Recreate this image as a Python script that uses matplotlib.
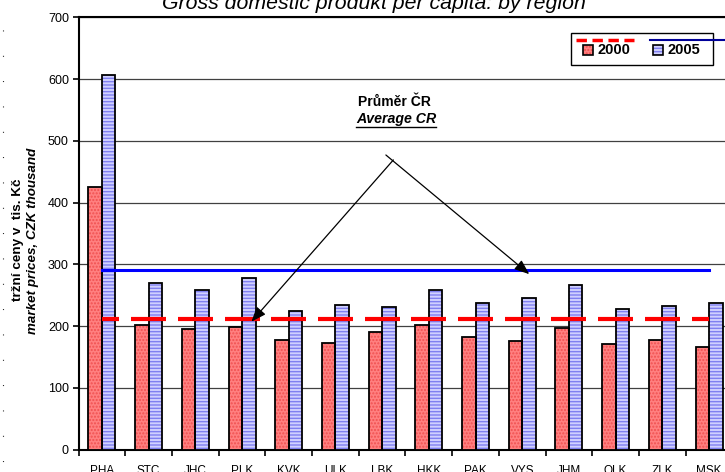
import matplotlib
matplotlib.use("Agg")
import matplotlib.pyplot as plt
from matplotlib.lines import Line2D
from matplotlib.patches import Rectangle
import numpy as np

plt.rcParams['font.family'] = ['Liberation Sans', 'DejaVu Sans']

regions = ["PHA", "STC", "JHC", "PLK", "KVK", "ULK", "LBK", "HKK", "PAK", "VYS", "JHM", "OLK", "ZLK", "MSK"]
gdp_2000 = [425, 201, 195, 199, 177, 173, 190, 202, 182, 175, 197, 171, 178, 166]
gdp_2005 = [607, 269, 259, 277, 224, 234, 231, 259, 238, 245, 266, 227, 233, 237]
avg_2000 = 212
avg_2005 = 291
yticks = [0, 100, 200, 300, 400, 500, 600, 700]
series_labels = ["2000", "2005"]
title = "Gross domestic produkt per capita: by region"
ylabel_cz = "tržní ceny v  tis. Kč"
ylabel_en = "market prices, CZK thousand"
note_cz = "Průměr ČR"
note_en = "Average CR"

W, H = 725, 472
fig = plt.figure(figsize=(7.25, 4.72), dpi=100)

def fx(px):
    return px / W

def fy(py):
    return 1 - py / H

ax_left, ax_right, ax_top, ax_bottom = 78.6, 732.4, 17.3, 449.5
ax = fig.add_axes([fx(ax_left), fy(ax_bottom), fx(ax_right - ax_left), (ax_bottom - ax_top) / H])

x = np.arange(len(regions))
bw = 0.29
red_face, red_hatch = '#FF8080', '#F05050'
blue_face, blue_hatch = '#D0D0FF', '#8080F0'

# bars: fill + hatch, then black outline
ax.bar(x - bw / 2, gdp_2000, bw, color=red_face, edgecolor=red_hatch, hatch='.....', linewidth=0, zorder=3)
ax.bar(x + bw / 2, gdp_2005, bw, color=blue_face, edgecolor=blue_hatch, hatch='-----', linewidth=0, zorder=3)
ax.bar(x - bw / 2, gdp_2000, bw, fill=False, edgecolor='black', linewidth=1.3, zorder=4)
ax.bar(x + bw / 2, gdp_2005, bw, fill=False, edgecolor='black', linewidth=1.3, zorder=4)

# average lines
n = len(regions)
for i in range(n):
    ax.plot([max(i - 0.375, 0), min(i + 0.375, n - 1)], [avg_2000, avg_2000],
            color='#FF0000', linewidth=3, solid_capstyle='butt', zorder=5)
ax.plot([0, n - 1], [avg_2005, avg_2005], color='#0000FF', linewidth=2.2, zorder=5)

ax.set_xlim(-0.5, n - 0.5)
ax.set_ylim(0, 700)
ax.set_yticks(yticks)
ax.set_yticklabels([str(t) for t in yticks], fontsize=9)
ax.set_xticks(x)
ax.set_xticklabels(regions, fontsize=8.5)
ax.set_xticks(np.arange(n + 1) - 0.5, minor=True)
ax.tick_params(axis='x', which='major', length=0, pad=11)
ax.tick_params(axis='x', which='minor', length=4, width=1.2, direction='out')
ax.tick_params(axis='y', length=4, width=1.2, direction='out', pad=3)
ax.yaxis.grid(True, color='#404040', linewidth=0.9, zorder=0)
ax.set_axisbelow(True)
for s in ['left', 'bottom', 'top']:
    ax.spines[s].set_linewidth(1.5)
ax.spines['right'].set_visible(False)

# title (partly cut off at top)
fig.text(fx(373.5), fy(9), title, ha='center', va='baseline', fontsize=15.3, style='italic')

# y labels
fig.text(fx(18), fy(240), ylabel_cz, rotation=90, ha='center', va='center', fontsize=9.7, fontweight='bold')
fig.text(fx(33), fy(241), ylabel_en, rotation=90, ha='center', va='center', fontsize=9.6,
         fontweight='bold', style='italic')

# annotation
fig.text(fx(394), fy(101.5), note_cz, ha='center', va='center', fontsize=10, fontweight='bold')
t_en = fig.text(fx(396), fy(119.5), note_en, ha='center', va='center', fontsize=10.2,
                fontweight='bold', style='italic')
ax.annotate('', xy=(3.2, 207), xytext=(6.24, 469),
            arrowprops=dict(arrowstyle='-|>,head_length=0.9,head_width=0.35', color='black', lw=0.9,
                            shrinkA=0, shrinkB=0), zorder=6)
ax.annotate('', xy=(9.15, 284), xytext=(6.08, 477),
            arrowprops=dict(arrowstyle='-|>,head_length=0.9,head_width=0.35', color='black', lw=0.9,
                            shrinkA=0, shrinkB=0), zorder=6)

# legend drawn manually
fig.patches.append(Rectangle((fx(571), fy(65)), fx(713 - 571), (65 - 33) / H, transform=fig.transFigure,
                             facecolor='white', edgecolor='black', linewidth=1.0, zorder=10))
fig.lines.append(Line2D([fx(576), fx(634)], [fy(40), fy(40)], transform=fig.transFigure, color='#FF0000',
                        linewidth=2.5, dashes=(3, 1.6), zorder=11))
fig.lines.append(Line2D([fx(650), fx(725)], [fy(40), fy(40)], transform=fig.transFigure, color='#000099',
                        linewidth=1.5, zorder=11))
for (x0, face, hatchc, hatch, lab, tx) in [(583, red_face, red_hatch, '.....', series_labels[0], 597),
                                            (653, blue_face, blue_hatch, '-----', series_labels[1], 667)]:
    fig.patches.append(Rectangle((fx(x0), fy(55)), fx(10), 10 / H, transform=fig.transFigure,
                                 facecolor=face, edgecolor=hatchc, hatch=hatch, linewidth=0, zorder=11))
    fig.patches.append(Rectangle((fx(x0), fy(55)), fx(10), 10 / H, transform=fig.transFigure,
                                 fill=False, edgecolor='black', linewidth=1.2, zorder=12))
    fig.text(fx(tx), fy(50), lab, ha='left', va='center', fontsize=10.5, fontweight='bold', zorder=12)

# dotted artifact along left edge
fig.lines.append(Line2D([fx(2.7), fx(2.7)], [fy(30), fy(462)], transform=fig.transFigure, color='black',
                        linewidth=0.8, linestyle=(0, (0.8, 22))))

# underline for English note
fig.canvas.draw()
bb = t_en.get_window_extent(renderer=fig.canvas.get_renderer())
fig.lines.append(Line2D([bb.x0 / fig.bbox.width, bb.x1 / fig.bbox.width],
                        [(bb.y0 - 0.5) / fig.bbox.height] * 2, transform=fig.transFigure,
                        color='black', linewidth=1.0))

fig.savefig('out.png', dpi=100)
